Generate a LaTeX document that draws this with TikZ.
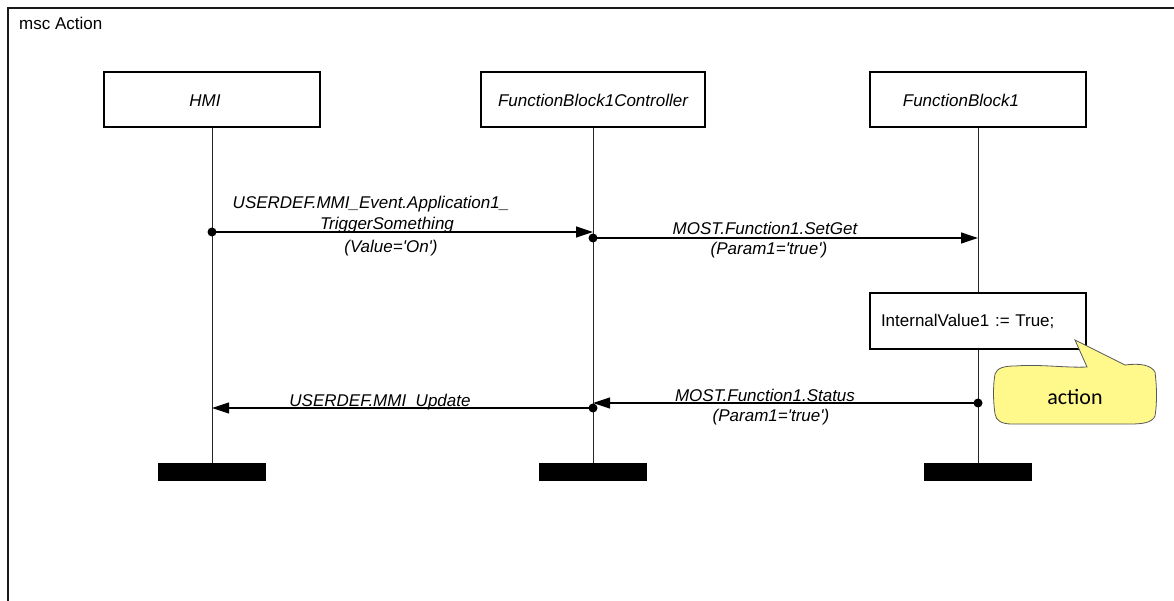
\documentclass[tikz,border=0pt]{standalone}
\usepackage{fontspec}
\setmainfont{Liberation Sans}
% a copy of the family without TeX ligatures, so that ' stays a straight quote
\newfontfamily\plainsans{Liberation Sans}
\newfontfamily\calloutfont{Carlito}
\usetikzlibrary{arrows.meta}
\begin{document}
\begin{tikzpicture}[x=1pt,y=-1pt,
  txt/.style={font=\plainsans\fontsize{17}{20}\selectfont, inner sep=0pt},
  lbl/.style={font=\plainsans\fontsize{17}{20}\selectfont\itshape, inner sep=0pt, anchor=base},
  instance/.style={draw, line width=1.2pt, minimum width=216pt, minimum height=55pt, inner sep=0pt},
  stopbar/.style={fill=black, minimum width=108pt, minimum height=18pt, inner sep=0pt},
  lifeline/.style={line width=1pt, draw=black!85},
  msg/.style={line width=1.2pt, -{Triangle[length=17pt,width=11pt]}},
  dot/.style={circle, fill=black, inner sep=0pt, minimum size=9pt},
  callout/.style={draw=black!65, line width=0.8pt, fill=yellow!45}]
  \useasboundingbox (0,0) rectangle (1174,601);

  % diagram frame and title
  \draw[line width=1.5pt, draw=black!90] (8,601) -- (8,8) -- (1174,8);
  \node[txt, anchor=base west] (title) at (19,30) {msc Action};

  % instance heads
  \node[instance] (hmi)  at (212,99.5) {};
  \node[instance, minimum width=224pt] (ctrl) at (593,99.5) {};
  \node[instance] (fb)   at (978,99.5) {};
  \node[lbl] (hminame)  at (205,107) {HMI};
  \node[lbl] (ctrlname) at (593,107) {FunctionBlock1Controller};
  \node[lbl] (fbname)   at (961,107) {FunctionBlock1};

  % instance ends
  \node[stopbar] (hmiend)  at (212,472) {};
  \node[stopbar] (ctrlend) at (593,472) {};
  \node[stopbar] (fbend)   at (978,472) {};

  % action on FunctionBlock1
  \node[draw, line width=1.2pt, minimum width=216pt, minimum height=56pt,
        text width=194pt, inner xsep=11pt, align=left, font=\plainsans\fontsize{17}{20}\selectfont]
        (act) at (978,321) {InternalValue1 := True;};

  % lifelines
  \draw[lifeline] (hmi.south) -- (hmiend.north);
  \draw[lifeline] (ctrl.south) -- (ctrlend.north);
  \draw[lifeline] (fb.south) -- (act.north);
  \draw[lifeline] (act.south) -- (fbend.north);

  % message end points
  \node[dot] (m1s) at (212,232) {};
  \coordinate (m1e) at (593,232);
  \node[dot] (m2s) at (593,238) {};
  \coordinate (m2e) at (978,238);
  \node[dot] (m3s) at (978,403) {};
  \coordinate (m3e) at (593,403);
  \node[dot] (m4s) at (593,408) {};
  \coordinate (m4e) at (212,408);

  % messages
  \draw[msg] (m1s.center) -- (m1e);
  \draw[msg] (m2s.center) -- (m2e);
  \draw[msg] (m3s.center) -- (m3e);
  \draw[msg] (m4s.center) -- (m4e);

  % message labels
  \node[lbl] (m1a) at (371,209) {USERDEF.MMI\_Event.Application1\_};
  \node[lbl] (m1b) at (387,230) {TriggerSomething};
  \node[lbl] (m1c) at (391,253) {(Value='On')};
  \node[lbl] (m2a) at (765,235) {MOST.Function1.SetGet};
  \node[lbl] (m2b) at (769,255) {(Param1='true')};
  \node[lbl] (m3a) at (765,401) {MOST.Function1.Status};
  \node[lbl] (m3b) at (771,421) {(Param1='true')};
  \node[lbl] (m4a) at (380,406) {USERDEF.MMI\_Update};

  % comment bubble
  \draw[callout] (1087,367) -- (1075,340) -- (1125,365)
    .. controls (1140,363) and (1151,365) .. (1155,372)
    .. controls (1157,388) and (1157,404) .. (1155,416)
    .. controls (1152,423) and (1142,424) .. (1130,424)
    -- (1012,424)
    .. controls (1002,424) and (996,421) .. (995,414)
    .. controls (993,400) and (993,386) .. (995,374)
    .. controls (997,368) and (1004,366) .. (1015,366)
    .. controls (1040,364) and (1065,368) .. (1087,367) -- cycle;
  \node[inner sep=0pt, font=\calloutfont\fontsize{22}{24}\selectfont] (note) at (1075,397) {action};
\end{tikzpicture}
\end{document}
